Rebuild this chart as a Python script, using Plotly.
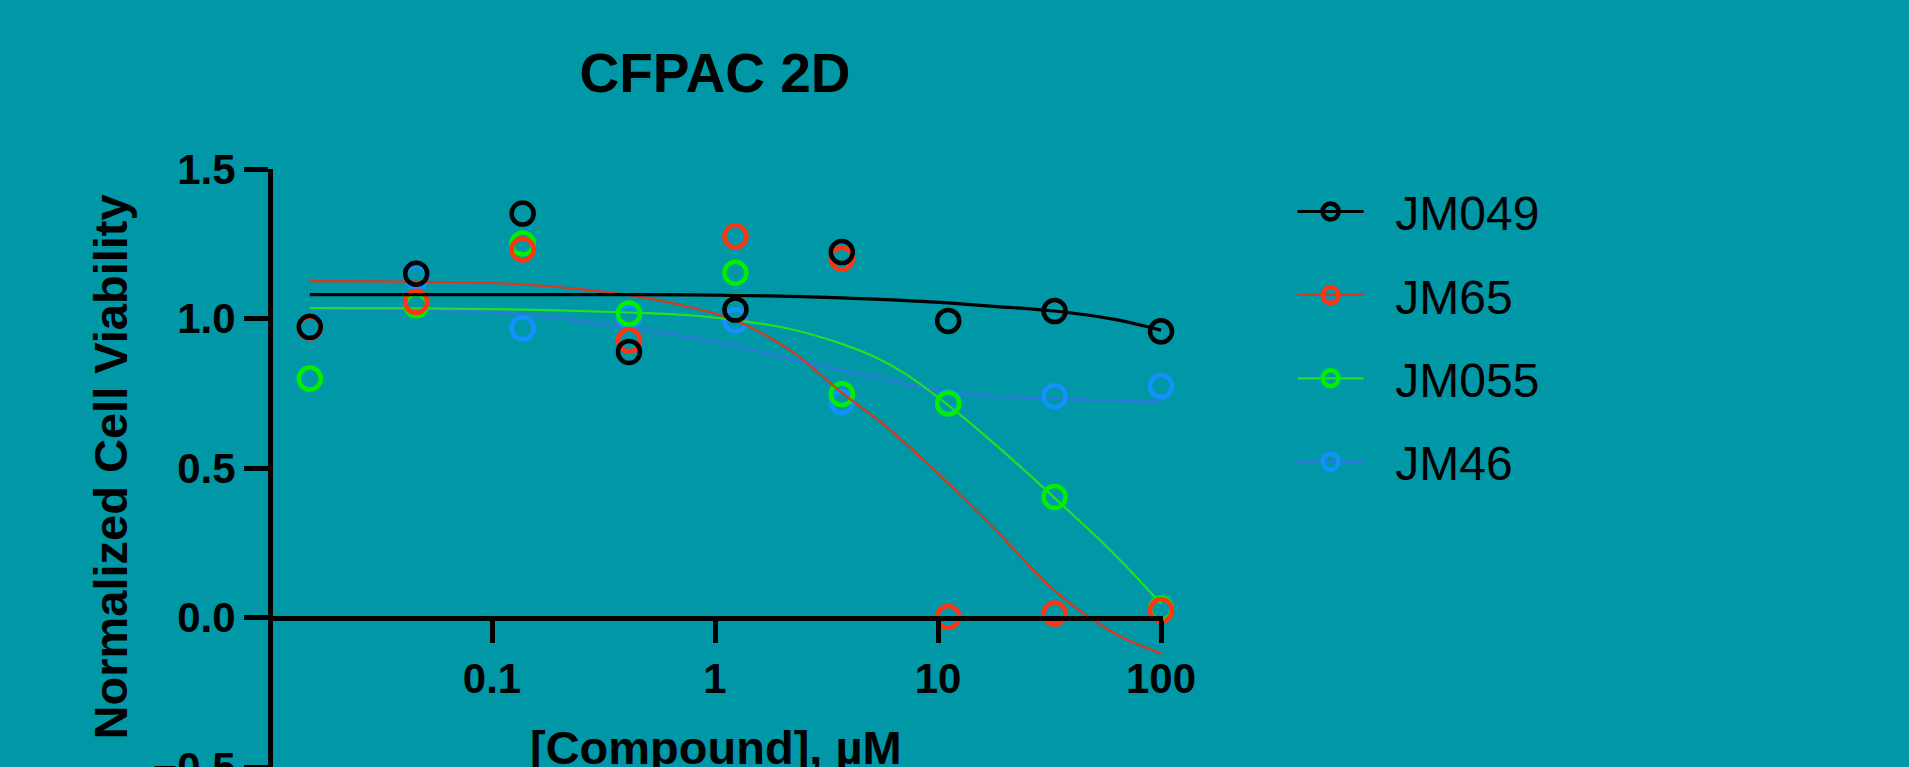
import plotly.graph_objects as go

# ---- data ----
conc = [0.01524, 0.04572, 0.1372, 0.4115, 1.235, 3.704, 11.11, 33.33, 100]
jm049 = [0.972, 1.150, 1.351, 0.888, 1.030, 1.222, 0.992, 1.025, 0.957]
jm65 = [0.970, 1.056, 1.231, 0.927, 1.275, 1.200, 0.002, 0.013, 0.024]
jm055 = [0.799, 1.044, 1.251, 1.017, 1.153, 0.747, 0.716, 0.403, 0.030]
jm46 = [0.975, 1.140, 0.967, 1.005, 0.994, 0.721, 0.720, 0.740, 0.774]

# fitted curves
curve_x = [0.01524, 0.0457, 0.137, 0.41, 0.8, 1.23, 2.17, 3.7, 5.5, 7.2, 11.1, 18.3, 33.3, 61, 100]
fit_jm049 = [1.080, 1.080, 1.080, 1.080, 1.079, 1.077, 1.074, 1.069, 1.064, 1.060, 1.052, 1.040, 1.025, 0.998, 0.961]
fit_jm65 = [1.125, 1.123, 1.114, 1.078, 1.035, 0.994, 0.894, 0.752, 0.655, 0.580, 0.450, 0.290, 0.090, -0.050, -0.120]
fit_jm055 = [1.035, 1.034, 1.030, 1.020, 1.010, 0.995, 0.965, 0.915, 0.863, 0.813, 0.710, 0.575, 0.400, 0.216, 0.046]
fit_jm46 = [1.030, 1.028, 1.014, 0.970, 0.935, 0.908, 0.865, 0.827, 0.800, 0.780, 0.755, 0.740, 0.732, 0.725, 0.721]

names = ["JM049", "JM65", "JM055", "JM46"]
x_ticks = [0.1, 1, 10, 100]
x_ticktext = ["0.1", "1", "10", "100"]
y_ticks = [-0.5, 0.0, 0.5, 1.0, 1.5]

# ---- styles ----
BG = "#0097A7"
FONT = "Liberation Sans, Arial, Helvetica, sans-serif"
marker_colors = {"JM049": "#000000", "JM65": "#FF3512", "JM055": "#00F000", "JM46": "#1590FF"}
line_colors = {"JM049": "#000000", "JM65": "#D8381C", "JM055": "#22E022", "JM46": "#2C7BD8"}
line_widths = {"JM049": 3.2, "JM65": 2.2, "JM055": 2.2, "JM46": 2.6}

points = {"JM049": jm049, "JM65": jm65, "JM055": jm055, "JM46": jm46}
fits = {"JM049": fit_jm049, "JM65": fit_jm65, "JM055": fit_jm055, "JM46": fit_jm46}

fig = go.Figure()

# legend entries (no data drawn)
for n in names:
    fig.add_trace(go.Scatter(
        x=[None], y=[None], mode="lines+markers", name="\u00a0\u00a0" + n,
        legendgroup=n, showlegend=True,
        line=dict(color=line_colors[n], width=line_widths[n]),
        marker=dict(symbol="circle-open", size=22, color=marker_colors[n],
                    line=dict(width=4.5, color=marker_colors[n])),
    ))

# drawing order: blue at bottom, black on top
for n in ["JM46", "JM055", "JM65", "JM049"]:
    fig.add_trace(go.Scatter(
        x=curve_x, y=fits[n], mode="lines", line_shape="spline",
        line=dict(color=line_colors[n], width=line_widths[n]),
        showlegend=False, legendgroup=n, hoverinfo="skip",
    ))
    fig.add_trace(go.Scatter(
        x=conc, y=points[n], mode="markers", showlegend=False, legendgroup=n,
        cliponaxis=False,
        marker=dict(symbol="circle-open", size=22, color=marker_colors[n],
                    line=dict(width=4.5, color=marker_colors[n])),
    ))

fig.update_layout(
    width=1909, height=767,
    paper_bgcolor=BG, plot_bgcolor=BG,
    margin=dict(l=273, r=746, t=169, b=0, pad=0, autoexpand=False),
    font=dict(family=FONT, color="#000000"),
    title=dict(text="CFPAC 2D", x=715 / 1909, xref="container", xanchor="center",
               y=1 - 73 / 767, yref="container", yanchor="middle",
               font=dict(size=55, family=FONT, weight="bold", color="#000000")),
    showlegend=True,
    legend=dict(
        x=1.1456, xanchor="left", y=0.992, yanchor="top", xref="paper", yref="paper",
        font=dict(size=48, family=FONT, color="#000000"),
        bgcolor="rgba(0,0,0,0)", borderwidth=0,
        traceorder="grouped", tracegroupgap=18, itemwidth=66,
    ),
    xaxis=dict(
        type="log", range=[-2 + 4 / 223, 2 + 2 / 223], anchor="free", position=0.25,
        automargin=False,
        showgrid=False, zeroline=False,
        showline=True, linecolor="#000000", linewidth=5,
        ticks="outside", ticklen=22, tickwidth=5, tickcolor="#000000",
        tickvals=x_ticks, ticktext=x_ticktext,
        tickfont=dict(size=42, family=FONT, weight="bold", color="#000000"),
    ),
    yaxis=dict(
        range=[-0.5, 1.5], showgrid=False, zeroline=False, automargin=False,
        showline=True, linecolor="#000000", linewidth=5,
        ticks="outside", ticklen=24, tickwidth=5, tickcolor="#000000",
        tickvals=y_ticks, tickformat=".1f", ticklabeloverflow="allow",
        tickfont=dict(size=42, family=FONT, weight="bold", color="#000000"),
    ),
    annotations=[
        dict(text="[Compound], \u00b5M", xref="paper", yref="paper",
             x=(715.8 - 273) / 890, y=(767 - 747.5) / 598,
             xanchor="center", yanchor="middle", showarrow=False,
             font=dict(size=47, family=FONT, weight="bold", color="#000000")),
        dict(text="Normalized Cell Viability", xref="paper", yref="paper",
             x=(110 - 273) / 890, y=(767 - 467.4) / 598, textangle=-90,
             xanchor="center", yanchor="middle", showarrow=False,
             font=dict(size=47, family=FONT, weight="bold", color="#000000")),
    ],
)

fig.write_html("out.html")
